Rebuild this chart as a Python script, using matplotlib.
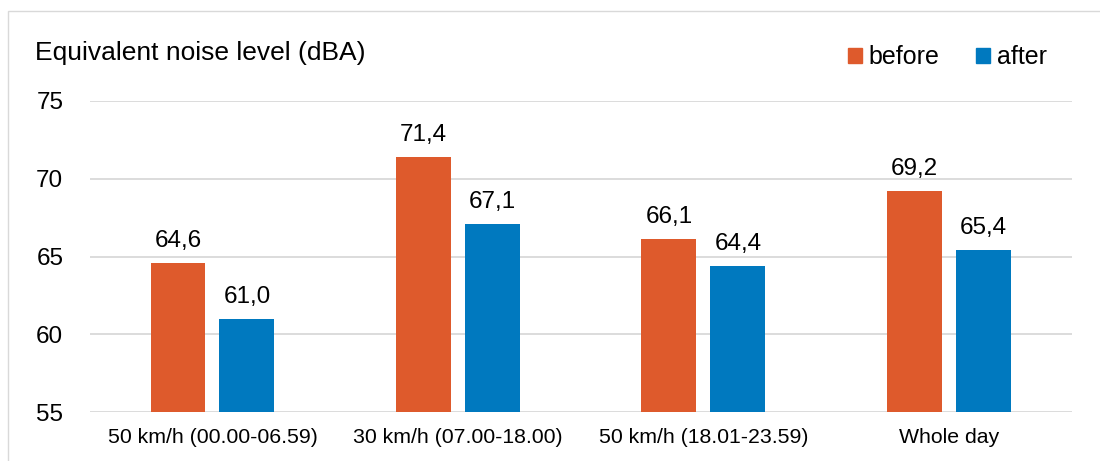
import matplotlib
matplotlib.use("Agg")
import matplotlib.pyplot as plt
import numpy as np
from matplotlib.patches import Rectangle, Patch

plt.rcParams["font.family"] = ["Liberation Sans", "DejaVu Sans"]

# ── データ ─────────────────────────────────────────────
categories = ["50 km/h (00.00-06.59)", "30 km/h (07.00-18.00)",
              "50 km/h (18.01-23.59)", "Whole day"]
before = [64.6, 71.4, 66.1, 69.2]
after  = [61.0, 67.1, 64.4, 65.4]
yticks = [55, 60, 65, 70, 75]

C_BEFORE = "#DE5A2C"
C_AFTER  = "#0079BF"
GRID     = "#D9D9D9"

# ── プロット ────────────────────────────────────────────
fig = plt.figure(figsize=(11, 4.61), dpi=100)
ax = fig.add_axes([0.0816, 0.1056, 0.9742 - 0.0816, 0.7816 - 0.1056])

x = np.arange(len(categories))
w = 0.224
off = 0.1405
b1 = ax.bar(x - off, before, w, color=C_BEFORE, zorder=3)
b2 = ax.bar(x + off, after,  w, color=C_AFTER,  zorder=3)

for bars, vals in ((b1, before), (b2, after)):
    for bar, v in zip(bars, vals):
        ax.annotate(f"{v:.1f}".replace(".", ","),
                    (bar.get_x() + bar.get_width() / 2, v),
                    xytext=(0, 8), textcoords="offset points",
                    ha="center", va="bottom", fontsize=17.5, color="#000000")

ax.set_xlim(-0.5, len(categories) - 0.5)
ax.set_ylim(55, 75)
ax.set_yticks(yticks)
ax.set_xticks(x)
ax.set_xticklabels(categories)
ax.tick_params(axis="y", length=0, pad=19, labelsize=17.5)
ax.tick_params(axis="x", length=0, pad=11, labelsize=15.3)
ax.yaxis.grid(True, color=GRID, lw=1.3, zorder=0)
ax.set_axisbelow(True)
for s in ax.spines.values():
    s.set_visible(False)

fig.text(35 / 1100, 1 - 60 / 461, "Equivalent noise level (dBA)",
         fontsize=19, ha="left", va="baseline")

handles = [Patch(color=C_BEFORE, label="before"),
           Patch(color=C_AFTER, label="after")]
fig.legend(handles=handles, loc="center left",
           bbox_to_anchor=(848 / 1100, 1 - 57 / 461), ncol=2, frameon=False,
           fontsize=18, handlelength=0.55, handleheight=0.55,
           handletextpad=0.28, columnspacing=1.45, borderpad=0, borderaxespad=0)

# 外枠
fig.patches.append(Rectangle((8 / 1100, -0.1), 1.2, 1.1 - 11.5 / 461,
                             transform=fig.transFigure, fill=False,
                             edgecolor=GRID, lw=1.0, clip_on=False))

fig.savefig("out.png", dpi=100)
